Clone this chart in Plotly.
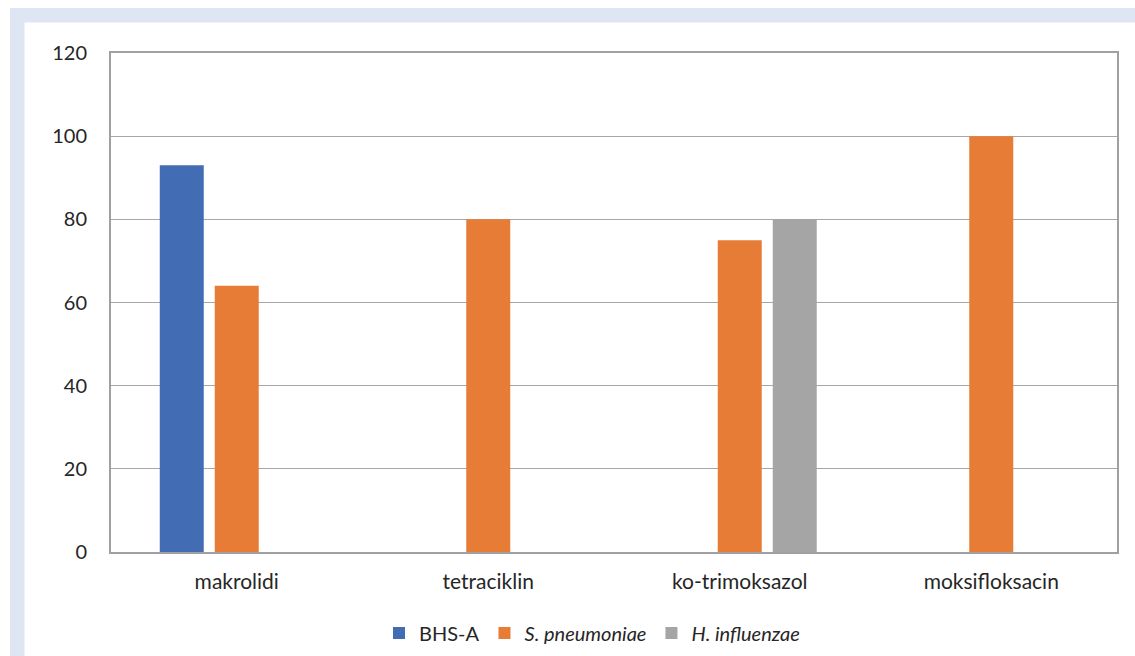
import plotly.graph_objects as go

# Antibiotic classes on the x axis
categories = ["makrolidi", "tetraciklin", "ko-trimoksazol", "moksifloksacin"]

# Resistance per pathogen (None = not tested)
bhs_a = [93, None, None, None]
s_pneumoniae = [64, 80, 75, 100]
h_influenzae = [None, None, 80, None]

series_names = ["BHS-A", "<i>S. pneumoniae</i>", "<i>H. influenzae</i>"]
series_colors = ["#426db5", "#e67c36", "#a5a5a5"]

y_ticks = [0, 20, 40, 60, 80, 100, 120]

W, H = 1135, 656
M_L, M_R, M_T, M_B = 111, 18, 53, 104
PW, PH = W - M_L - M_R, H - M_T - M_B


def px_to_paper_x(px):
    return (px - M_L) / PW


def px_to_paper_y(py):
    return (H - M_B - py) / PH


fig = go.Figure()
for name, vals, col in zip(series_names, [bhs_a, s_pneumoniae, h_influenzae], series_colors):
    fig.add_trace(go.Bar(x=categories, y=vals, name=name, marker=dict(color=col, line=dict(width=0))))

font_family = "Lato, 'Open Sans', sans-serif"
band = "#dfe6f3"

shapes = [
    # light frame band along top and left edge
    dict(type="rect", xref="paper", yref="paper", layer="below",
         x0=px_to_paper_x(10), x1=px_to_paper_x(W + 5),
         y0=px_to_paper_y(8), y1=px_to_paper_y(22.5),
         fillcolor=band, line=dict(width=0)),
    dict(type="rect", xref="paper", yref="paper", layer="below",
         x0=px_to_paper_x(10), x1=px_to_paper_x(24.5),
         y0=px_to_paper_y(8), y1=px_to_paper_y(H + 5),
         fillcolor=band, line=dict(width=0)),
]

fig.update_layout(
    width=W, height=H,
    margin=dict(l=M_L, r=M_R, t=M_T, b=M_B, autoexpand=False),
    paper_bgcolor="white", plot_bgcolor="white",
    barmode="group", bargap=0.344, bargroupgap=0.2,
    font=dict(family=font_family, size=20, color="#262626"),
    shapes=shapes,
    showlegend=True,
    legend=dict(orientation="h", x=px_to_paper_x(379), xanchor="left", y=px_to_paper_y(633), yanchor="middle",
                font=dict(size=20, color="#262626"), traceorder="normal"),
    xaxis=dict(showline=True, mirror=True, linecolor="#a0a0a4", linewidth=2,
               ticks="", showgrid=False, tickfont=dict(size=21), ticklabelstandoff=10),
    yaxis=dict(range=[0, 120], tickvals=y_ticks, showline=True, mirror=True,
               linecolor="#a0a0a4", linewidth=2, showgrid=True, gridcolor="#a6a6a6",
               gridwidth=1.3, zeroline=False, ticks="", ticklabelstandoff=18,
               tickfont=dict(size=20)),
)

fig.write_html("out.html")
